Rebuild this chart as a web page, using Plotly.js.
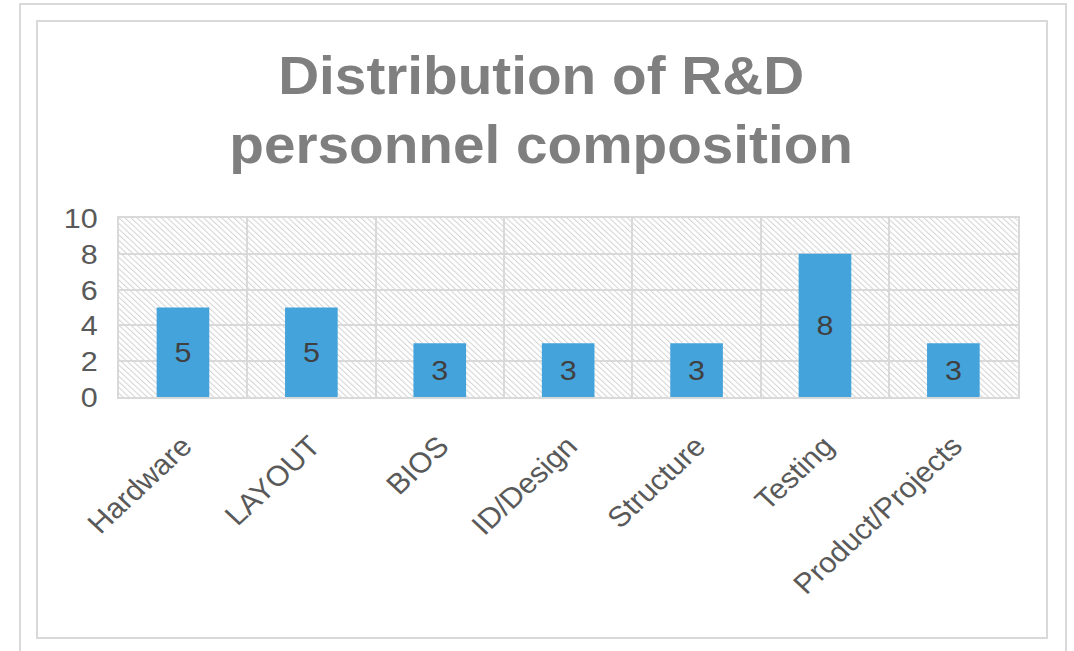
<!DOCTYPE html>
<html>
<head>
<meta charset="utf-8">
<script src="https://cdn.plot.ly/plotly-3.0.1.min.js"></script>
<style>
html,body{margin:0;padding:0;background:#fff;}
#wrap{position:relative;width:1074px;height:651px;overflow:hidden;background:#fff;}
#chart{position:absolute;left:0;top:0;width:1004px;height:651px;transform-origin:0 0;transform:scaleX(1.07);}
.frame{position:absolute;border:2px solid #d9d9d9;pointer-events:none;box-sizing:border-box;}
</style>
</head>
<body>
<div id="wrap">
<div id="chart"></div>
<div class="frame" style="left:19px;top:3px;width:1048px;height:660px;"></div>
<div class="frame" style="left:36px;top:20px;width:1012px;height:619px;"></div>
</div>
<script>
var categories = ["Hardware", "LAYOUT", "BIOS", "ID/Design", "Structure", "Testing", "Product/Projects"];
var headcount = [5, 5, 3, 3, 3, 8, 3];
var yTicks = [0, 2, 4, 6, 8, 10];
var chartTitle = "Distribution of R&D<br>personnel composition";

var FONT = "Liberation Sans, Arial, sans-serif";
var SX = 1.07;          // slight horizontal stretch seen in the reference picture
var W = 1004, H = 651;  // unstretched drawing size

var trace = {
  type: "bar",
  x: categories,
  y: headcount,
  text: headcount.map(String),
  textposition: "inside",
  insidetextanchor: "middle",
  textangle: 0,
  textfont: {family: FONT, size: 28.5, color: "#404040"},
  marker: {color: "#45a3db", line: {width: 0}},
  hoverinfo: "x+y"
};

var layout = {
  width: W,
  height: H,
  margin: {l: 119 / SX, r: 57 / SX, t: 218, b: 254},
  paper_bgcolor: "rgba(0,0,0,0)",
  plot_bgcolor: "#ffffff",
  bargap: 0.59,
  showlegend: false,
  title: {
    text: chartTitle,
    font: {family: FONT, size: 53, color: "#7f7f7f", weight: "bold"},
    x: 541 / 1074,
    xref: "container",
    xanchor: "center",
    y: 1 - 94 / 651,
    yref: "container",
    yanchor: "top"
  },
  xaxis: {
    type: "category",
    tickson: "boundaries",
    showgrid: true,
    gridcolor: "#d9d9d9",
    gridwidth: 2,
    showline: true,
    linecolor: "#d9d9d9",
    linewidth: 2,
    mirror: true,
    ticks: "",
    tickangle: -45,
    tickfont: {family: FONT, size: 28.5, color: "#595959"},
    ticklabelstandoff: 19,
    zeroline: false
  },
  yaxis: {
    range: [0, 10],
    tickvals: yTicks,
    ticktext: yTicks.map(String),
    showgrid: true,
    gridcolor: "#d9d9d9",
    gridwidth: 2,
    showline: true,
    linecolor: "#d9d9d9",
    linewidth: 2,
    mirror: true,
    ticks: "",
    tickfont: {family: FONT, size: 28.5, color: "#595959"},
    ticklabelstandoff: 12,
    zeroline: false
  }
};

function applyHatch(gd) {
  var svg = gd.querySelector(".main-svg");
  if (!svg) return;
  var NS = "http://www.w3.org/2000/svg";
  var defs = svg.querySelector("defs");
  if (!defs) { defs = document.createElementNS(NS, "defs"); svg.insertBefore(defs, svg.firstChild); }
  if (!svg.querySelector("#bgHatch")) {
    var pat = document.createElementNS(NS, "pattern");
    pat.setAttribute("id", "bgHatch");
    pat.setAttribute("patternUnits", "userSpaceOnUse");
    pat.setAttribute("width", "4");
    pat.setAttribute("height", "4");
    pat.setAttribute("patternTransform", "rotate(-45)");
    var r = document.createElementNS(NS, "rect");
    r.setAttribute("width", "4"); r.setAttribute("height", "4"); r.setAttribute("fill", "#ffffff");
    var ln = document.createElementNS(NS, "line");
    ln.setAttribute("x1", "0.5"); ln.setAttribute("y1", "0");
    ln.setAttribute("x2", "0.5"); ln.setAttribute("y2", "4");
    ln.setAttribute("stroke", "#d4d4d4"); ln.setAttribute("stroke-width", "1");
    pat.appendChild(r); pat.appendChild(ln);
    defs.appendChild(pat);
  }
  var bg = svg.querySelector(".bglayer rect.bg");
  if (bg) bg.style.fill = "url(#bgHatch)";
}

var gd = document.getElementById("chart");
Plotly.newPlot(gd, [trace], layout, {displayModeBar: false, staticPlot: true}).then(function () {
  applyHatch(gd);
});
</script>
</body>
</html>
